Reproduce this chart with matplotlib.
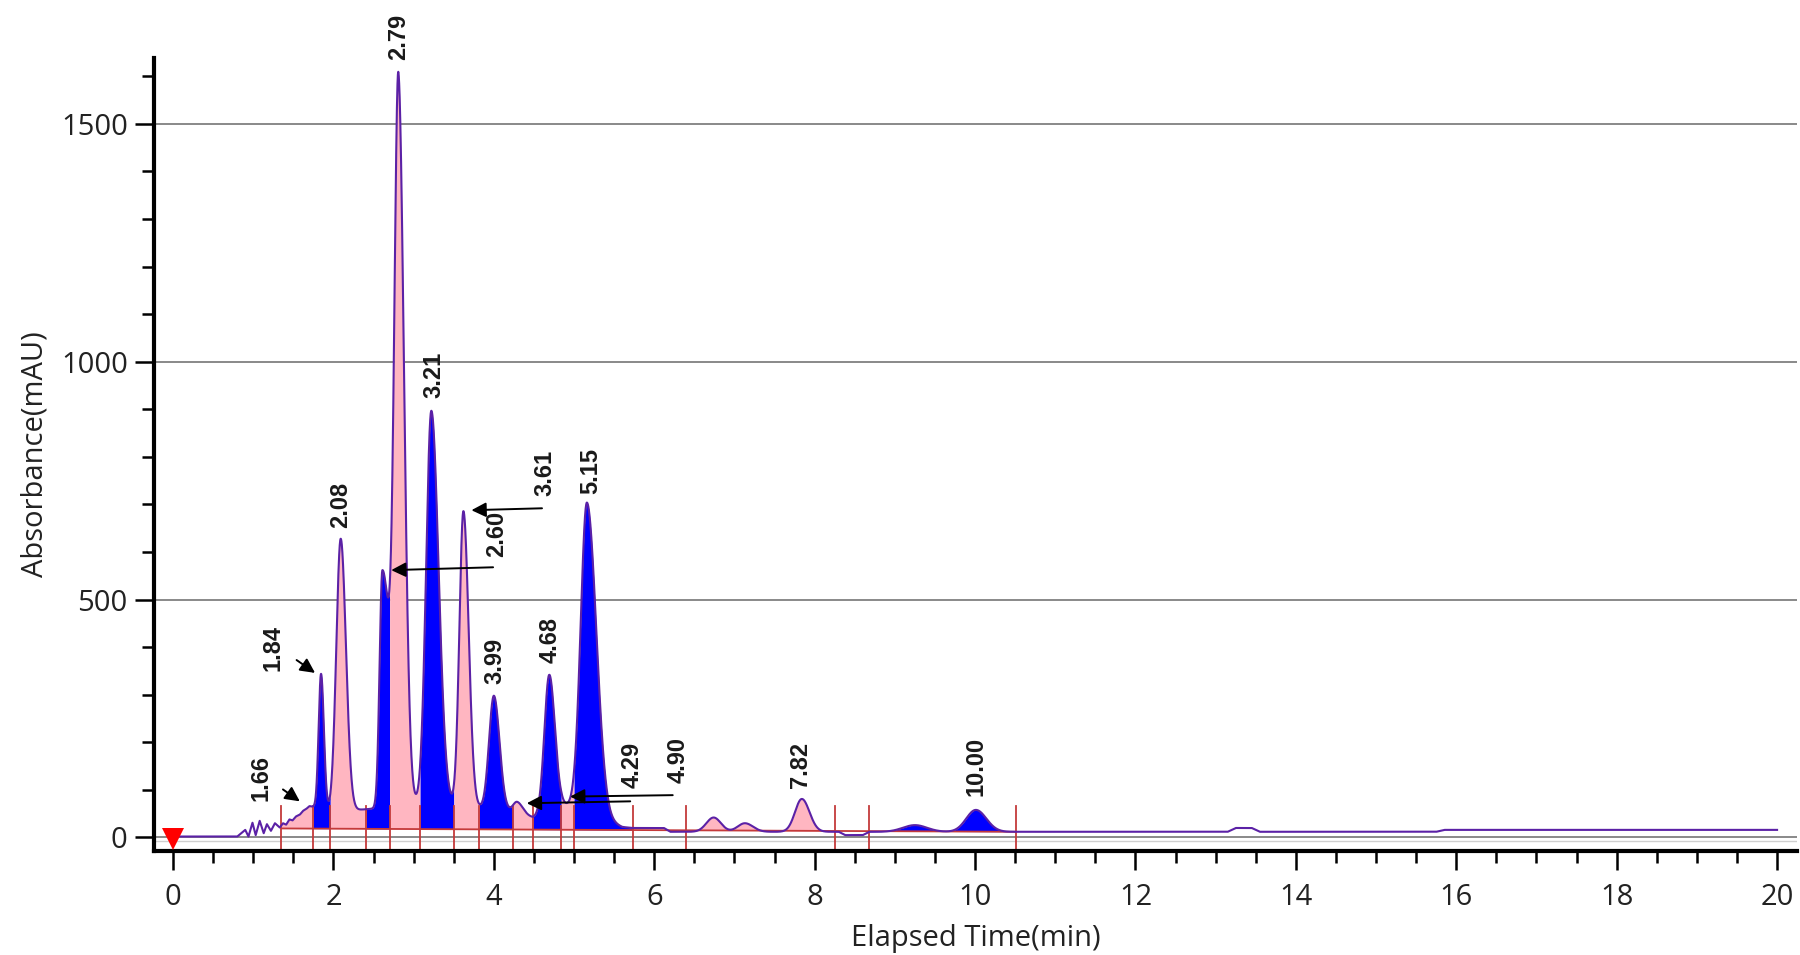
import numpy as np
import matplotlib
matplotlib.use("Agg")
import matplotlib.pyplot as plt
from matplotlib.ticker import MultipleLocator

# ---------------- data ----------------
# background of the trace (time in min, absorbance in mAU)
base_time = [0.00, 0.80, 0.90, 0.94, 0.99, 1.03, 1.08, 1.13, 1.17, 1.22, 1.27, 1.33,
             1.37, 1.41, 1.45, 1.49, 1.53, 1.58, 1.62, 1.66, 1.70, 1.76, 1.96,
             2.30, 2.45, 3.07, 3.49, 3.83, 4.20, 4.49, 4.84, 5.00, 5.30, 5.45, 5.60, 5.73,
             6.12, 6.20, 6.40, 8.30, 8.38, 8.60, 8.68, 13.15, 13.25, 13.45, 13.55,
             15.75, 15.85, 20.00]
base_abs = [2, 2, 16, 2, 31, 5, 35, 9, 28, 14, 30, 21,
            30, 27, 38, 36, 44, 48, 56, 60, 66, 64, 55,
            58, 60, 70, 68, 62, 55, 42, 68, 66, 50, 32, 22, 20,
            20, 12, 12, 12, 5, 5, 12, 12, 20, 20, 12,
            12, 16, 16]

# peaks: apex time, apex absorbance, left / right width (min)
peak_time = [1.845, 2.09, 2.61, 2.81, 3.22, 3.62, 4.00, 4.29, 4.69, 5.16,
             6.74, 7.13, 7.84, 9.25, 10.01]
peak_abs = [344, 628, 562, 1608, 897, 686, 298, 75, 342, 704,
            42, 30, 81, 26, 58]
peak_wl = [0.030, 0.055, 0.035, 0.050, 0.065, 0.050, 0.060, 0.050, 0.060, 0.077,
           0.090, 0.090, 0.085, 0.150, 0.120]
peak_wr = [0.035, 0.065, 0.100, 0.070, 0.090, 0.065, 0.070, 0.070, 0.070, 0.115,
           0.090, 0.100, 0.095, 0.150, 0.130]

# integration segment boundaries and fill colour of each segment
seg_bounds = [1.35, 1.75, 1.96, 2.41, 2.70, 3.08, 3.50, 3.82, 4.24, 4.49, 4.84,
              5.00, 5.74, 6.40, 8.25, 8.68, 10.51]
seg_kind = ['pink', 'blue', 'pink', 'blue', 'pink', 'blue', 'pink', 'blue', 'pink',
            'blue', 'pink', 'blue', None, 'pink', None, 'blue']
integ_base_time = [1.35, 10.51]
integ_base_abs = [19, 12]

# peak labels (retention times)
label_text = ['1.66', '1.84', '2.08', '2.60', '2.79', '3.21', '3.61', '3.99',
              '4.29', '4.68', '4.90', '5.15', '7.82', '10.00']

x_ticks = [0, 2, 4, 6, 8, 10, 12, 14, 16, 18, 20]
y_ticks = [0, 500, 1000, 1500]

# ---------------- layout / style ----------------
label_pos = {  # (x, bottom y) of each rotated label
    '1.66': (1.09, 76), '1.84': (1.25, 350), '2.08': (2.09, 651),
    '2.60': (4.03, 590), '2.79': (2.81, 1635), '3.21': (3.25, 923),
    '3.61': (4.64, 718), '3.99': (4.01, 322), '4.29': (5.72, 104),
    '4.68': (4.70, 366), '4.90': (6.30, 115), '5.15': (5.21, 723),
    '7.82': (7.82, 105), '10.00': (10.01, 88)}
arrows = [  # (tail, tip)
    ((1.37, 101), (1.58, 76)),
    ((1.54, 373), (1.77, 346)),
    ((3.99, 568), (2.72, 562)),
    ((4.60, 692), (3.72, 688)),
    ((5.70, 76), (4.41, 72)),
    ((6.23, 89), (4.95, 86)),
]
PURPLE = '#5b21a6'
PINK = '#ffb6c1'
BLUE = '#0000ff'
RED = '#c43a3a'
colors = {'pink': PINK, 'blue': BLUE}

plt.rcParams['font.family'] = ['Open Sans', 'DejaVu Sans']

# ---------------- build the trace ----------------
t = np.linspace(0, 20, 20001)


def shape(x, c, wl, wr):
    w = np.where(x < c, wl, wr)
    return np.exp(-0.5 * ((x - c) / w) ** 2)


pt = np.array(peak_time)
G = np.array([[shape(np.array(pt[i]), pt[j], peak_wl[j], peak_wr[j])
               for j in range(len(pt))] for i in range(len(pt))])
rhs = np.array(peak_abs) - np.interp(pt, base_time, base_abs)
amp = np.linalg.solve(G, rhs)
signal = np.interp(t, base_time, base_abs)
for j in range(len(pt)):
    signal = signal + amp[j] * shape(t, pt[j], peak_wl[j], peak_wr[j])

red_base = np.interp(t, integ_base_time, integ_base_abs)

# ---------------- figure ----------------
fig = plt.figure(figsize=(18, 9.55), dpi=100)
ax = fig.add_axes([0.0856, 0.1089, 0.9128, 0.8304])
ax.set_xlim(-0.237, 20.25)
ax.set_ylim(-28.4, 1638.6)

for yv in y_ticks:
    ax.axhline(yv, color='#808080', lw=1.3, zorder=0)
ax.axhline(-7, color='#cfcfcf', lw=1.0, zorder=0)

for k, kind in enumerate(seg_kind):
    if kind is None:
        continue
    a, b = seg_bounds[k], seg_bounds[k + 1]
    m = (t >= a) & (t <= b)
    ax.fill_between(t[m], signal[m], red_base[m], color=colors[kind], lw=0, zorder=1)

ax.plot(integ_base_time, integ_base_abs, color=RED, lw=1.3, zorder=2)
for xb in seg_bounds:
    ax.plot([xb, xb], [-30, 66], color=RED, lw=1.3, zorder=2)

ax.plot(t, signal, color=PURPLE, lw=1.5, zorder=3)

for txt in label_text:
    x, y = label_pos[txt]
    ax.text(x, y, txt, rotation=90, ha='center', va='bottom', fontsize=17,
            fontweight='bold', family=['Liberation Sans', 'DejaVu Sans'],
            color='#1a1a1a', zorder=5)

for (tail, tip) in arrows:
    ax.annotate('', xy=tip, xytext=tail,
                arrowprops=dict(arrowstyle='-|>', color='black', lw=1.4,
                                mutation_scale=22, shrinkA=0, shrinkB=0),
                zorder=6)

ax.plot([0], [-4], marker='v', color='#ff0000', markersize=16, clip_on=False,
        zorder=7, markeredgewidth=0)

# axes styling
for s in ['top', 'right']:
    ax.spines[s].set_visible(False)
for s in ['left', 'bottom']:
    ax.spines[s].set_linewidth(3)
ax.set_xticks(x_ticks)
ax.set_yticks(y_ticks)
ax.xaxis.set_minor_locator(MultipleLocator(0.5))
ax.yaxis.set_minor_locator(MultipleLocator(100))
ax.tick_params(which='major', length=14, width=1.8, labelsize=21,
               labelcolor='#222222', pad=5)
ax.tick_params(axis='x', which='major', pad=9)
ax.tick_params(which='minor', length=8.5, width=1.8)
ax.set_xlabel('Elapsed Time(min)', fontsize=21, color='#222222', labelpad=9)
ax.set_ylabel('Absorbance(mAU)', fontsize=21, color='#222222', labelpad=8)

fig.savefig('out.png', dpi=100)
